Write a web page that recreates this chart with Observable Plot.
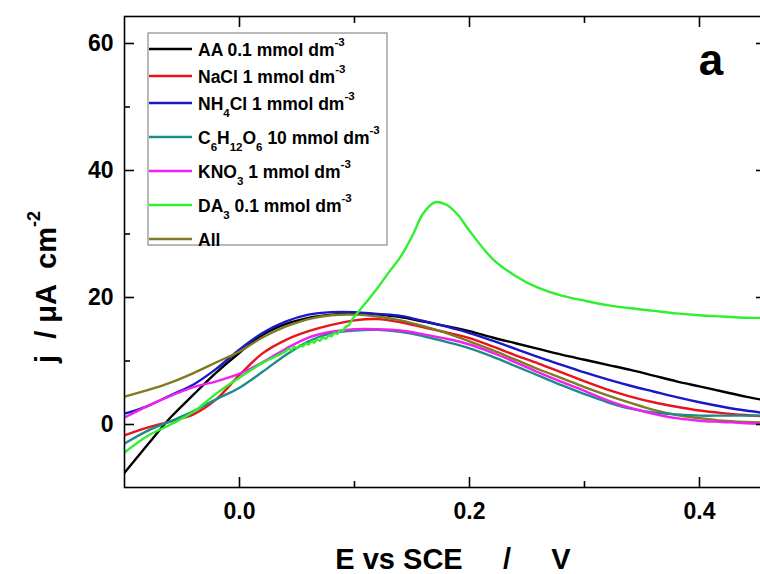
<!DOCTYPE html>
<html>
<head>
<meta charset="utf-8">
<script src="https://cdn.jsdelivr.net/npm/d3@7"></script>
<script src="https://cdn.jsdelivr.net/npm/@observablehq/plot@0.6"></script>
<style>
  html, body { margin: 0; padding: 0; background: #fff; overflow: hidden; }
  #chart { width: 760px; height: 574px; overflow: hidden; position: relative; }
  #chart svg { max-width: none !important; width: 770px; height: 574px; }
  text { white-space: pre; }
</style>
</head>
<body>
<div id="chart"></div>
<script>
// ---- data ----
const potential = [-0.10, -0.08, -0.06, -0.04, -0.02, 0.00, 0.02, 0.04, 0.06, 0.08, 0.10, 0.12, 0.14, 0.16, 0.18, 0.20, 0.22, 0.24, 0.26, 0.28, 0.30, 0.32, 0.34, 0.36, 0.38, 0.40, 0.42, 0.44, 0.4574];
const jAA      = [-7.6, -3.2, 1.1, 4.7, 8.2, 11.3, 14.1, 15.8, 16.8, 17.3, 17.5, 17.3, 16.9, 16.2, 15.5, 14.7, 13.7, 12.8, 11.9, 11.0, 10.2, 9.4, 8.6, 7.7, 6.8, 6.0, 5.2, 4.4, 3.8];
const jNaCl    = [-1.7, -0.5, 0.5, 1.6, 4.0, 7.8, 11.2, 13.3, 14.7, 15.7, 16.4, 16.6, 16.1, 15.3, 14.5, 13.6, 12.3, 10.9, 9.6, 8.2, 6.8, 5.5, 4.4, 3.5, 2.8, 2.2, 1.8, 1.5, 1.3];
const jNH4Cl   = [1.7, 2.9, 4.6, 6.3, 8.8, 11.8, 14.4, 16.2, 17.3, 17.7, 17.7, 17.4, 17.1, 16.3, 15.4, 14.4, 13.2, 11.9, 10.6, 9.4, 8.2, 7.1, 6.1, 5.2, 4.3, 3.5, 2.8, 2.2, 1.8];
const jGlucose = [-3.0, -1.0, 0.5, 2.1, 4.0, 5.8, 8.3, 10.9, 13.1, 14.4, 14.8, 14.9, 14.6, 13.9, 13.0, 12.0, 10.7, 9.2, 7.7, 6.2, 4.8, 3.5, 2.5, 1.9, 1.6, 1.4, 1.4, 1.4, 1.4];
const jKNO3    = [1.1, 2.9, 4.5, 5.9, 6.8, 8.0, 9.8, 11.9, 13.7, 14.6, 15.0, 15.0, 14.8, 14.2, 13.5, 12.6, 11.3, 9.8, 8.2, 6.7, 5.3, 3.8, 2.6, 1.7, 1.0, 0.6, 0.4, 0.2, 0.1];
const jAll     = [4.4, 5.4, 6.6, 8.1, 9.8, 11.5, 13.7, 15.4, 16.6, 17.2, 17.3, 17.0, 16.4, 15.5, 14.4, 13.1, 11.7, 10.2, 8.7, 7.3, 5.9, 4.6, 3.4, 2.3, 1.5, 1.0, 0.6, 0.4, 0.3];

const potentialDA = [-0.10, -0.08, -0.06, -0.04, -0.02, 0.00, 0.02,
  0.04, 0.0425, 0.045, 0.0475, 0.05, 0.0525, 0.055, 0.0575, 0.06, 0.0625, 0.065, 0.0675, 0.07, 0.0725, 0.075, 0.0775, 0.08, 0.0825, 0.085, 0.0875, 0.09, 0.0925, 0.095, 0.0975, 0.10,
  0.11, 0.12, 0.13, 0.14, 0.15, 0.16, 0.17, 0.18, 0.19, 0.20, 0.22, 0.24, 0.26, 0.28, 0.30, 0.32, 0.34, 0.36, 0.38, 0.40, 0.42, 0.44, 0.4574];
const jDA = [-4.4, -1.8, 0.0, 2.0, 4.9, 7.4, 9.7,
  11.5, 11.9, 11.7, 12.2, 12.0, 12.5, 12.3, 12.8, 12.6, 13.1, 12.9, 13.4, 13.2, 13.7, 13.5, 14.0, 13.9, 14.4, 14.3, 14.8, 14.8, 15.4, 15.6, 16.4, 17.0,
  19.2, 21.5, 24.0, 26.4, 29.6, 33.3, 35.0, 34.6, 33.0, 30.5, 26.1, 23.4, 21.5, 20.3, 19.5, 18.8, 18.3, 17.9, 17.5, 17.2, 17.0, 16.8, 16.8];

const seriesKeys   = ["AA", "NaCl", "NH4Cl", "C6H12O6", "KNO3", "DA3", "All"];
const seriesColors = ["#000000", "#e8141c", "#1818c8", "#1f8a8a", "#f020f0", "#2ef02e", "#7f7b22"];
const legendLabels = [
  [["AA 0.1 mmol dm", ""], ["-3", "sup"]],
  [["NaCl 1 mmol dm", ""], ["-3", "sup"]],
  [["NH", ""], ["4", "sub"], ["Cl 1 mmol dm", ""], ["-3", "sup"]],
  [["C", ""], ["6", "sub"], ["H", ""], ["12", "sub"], ["O", ""], ["6", "sub"], [" 10 mmol dm", ""], ["-3", "sup"]],
  [["KNO", ""], ["3", "sub"], [" 1 mmol dm", ""], ["-3", "sup"]],
  [["DA", ""], ["3", "sub"], [" 0.1 mmol dm", ""], ["-3", "sup"]],
  [["All", ""]]
];

const xTicksMajor = [0.0, 0.2, 0.4];
const xTicksMinor = [0.1, 0.3];
const yTicksMajor = [0, 20, 40, 60];
const yTicksMinor = [10, 30, 50];
const xTitle = "E vs SCE     /     V";
const yTitle = [["j  / \u03bcA  cm", ""], ["-2", "sup"]];
const panelLabel = "a";

// ---- build table ----
const seriesY = {AA: jAA, NaCl: jNaCl, NH4Cl: jNH4Cl, C6H12O6: jGlucose, KNO3: jKNO3, All: jAll};
const rows = [];
for (const key of seriesKeys) {
  if (key === "DA3") {
    potentialDA.forEach((e, i) => rows.push({series: key, E: e, j: jDA[i]}));
  } else {
    potential.forEach((e, i) => rows.push({series: key, E: e, j: seriesY[key][i]}));
  }
}
const drawOrder = ["AA", "NaCl", "NH4Cl", "All", "C6H12O6", "KNO3", "DA3"];
const colorOf = Object.fromEntries(seriesKeys.map((k, i) => [k, seriesColors[i]]));

const FONT = "'Liberation Sans', Arial, Helvetica, sans-serif";
const axisCommon = {strokeWidth: 1.6, label: null};

const svg = Plot.plot({
  width: 770,
  height: 574,
  marginLeft: 124,
  marginRight: 5,
  marginTop: 16,
  marginBottom: 87,
  x: {domain: [-0.1, 0.4574]},
  y: {domain: [-9.92, 64.25]},
  style: {fontFamily: FONT, fontWeight: "bold", color: "black", background: "white", overflow: "hidden", maxWidth: "none"},
  marks: [
    ...drawOrder.map(k => Plot.line(rows.filter(r => r.series === k), {
      x: "E", y: "j", stroke: colorOf[k], strokeWidth: 2.4, curve: "catmull-rom", clip: true
    })),
    Plot.frame({stroke: "black", strokeWidth: 1.6}),
    // ticks pointing inward
    Plot.axisX(xTicksMajor, {...axisCommon, anchor: "bottom", tickSize: -10, fill: "none"}),
    Plot.axisX(xTicksMinor, {...axisCommon, anchor: "bottom", tickSize: -6, fill: "none"}),
    Plot.axisX(xTicksMajor, {...axisCommon, anchor: "top", tickSize: -10, fill: "none"}),
    Plot.axisX(xTicksMinor, {...axisCommon, anchor: "top", tickSize: -6, fill: "none"}),
    Plot.axisY(yTicksMajor, {...axisCommon, anchor: "left", tickSize: -10, fill: "none"}),
    Plot.axisY(yTicksMinor, {...axisCommon, anchor: "left", tickSize: -6, fill: "none"}),
    Plot.axisY(yTicksMajor, {...axisCommon, anchor: "right", tickSize: -10, fill: "none"}),
    Plot.axisY(yTicksMinor, {...axisCommon, anchor: "right", tickSize: -6, fill: "none"}),
    // tick labels
    Plot.axisX(xTicksMajor, {anchor: "bottom", tickSize: 0, tickPadding: 15, tickFormat: d3.format(".1f"), fontSize: 23, fontWeight: "bold", label: null}),
    Plot.axisY(yTicksMajor, {anchor: "left", tickSize: 0, tickPadding: 11, tickFormat: d3.format("d"), fontSize: 23, fontWeight: "bold", label: null})
  ]
});
svg.style.maxWidth = "none";
document.getElementById("chart").appendChild(svg);

// ---- overlays: titles, panel label, legend ----
const s = d3.select(svg);

// rich text: sub/superscripts via dy offsets on the shifted tspan and the next one
function addRich(sel, parts, size, subSize) {
  let shift = 0;
  for (const [t, mode] of parts) {
    const target = mode === "sup" ? -0.55 * size : mode === "sub" ? 0.42 * size : 0;
    sel.append("tspan")
      .attr("dy", target - shift)
      .attr("font-size", mode ? subSize : size)
      .text(t);
    shift = target;
  }
}

s.append("text")
  .attr("x", 453).attr("y", 569)
  .attr("text-anchor", "middle")
  .attr("font-family", FONT).attr("font-weight", "bold").attr("font-size", 29)
  .attr("fill", "black")
  .text(xTitle);

const yt = s.append("text")
  .attr("transform", "translate(56,287) rotate(-90)")
  .attr("text-anchor", "middle")
  .attr("font-family", FONT).attr("font-weight", "bold").attr("font-size", 29)
  .attr("fill", "black");
addRich(yt, yTitle, 29, 18);

s.append("text")
  .attr("x", 711).attr("y", 75)
  .attr("text-anchor", "middle")
  .attr("font-family", FONT).attr("font-weight", "bold").attr("font-size", 44)
  .attr("fill", "black")
  .text(panelLabel);

// legend
const lg = s.append("g").attr("font-family", FONT).attr("font-weight", "bold").attr("text-anchor", "start");
lg.append("rect")
  .attr("x", 148).attr("y", 33).attr("width", 239).attr("height", 212)
  .attr("fill", "white").attr("stroke", "#8a8a8a").attr("stroke-width", 1.2);
let rowY = 49;
seriesKeys.forEach((k, i) => {
  if (i > 0) {
    const prevHasSub = legendLabels[i - 1].some(p => p[1] === "sub");
    rowY += 27 + (prevHasSub ? 7 : 0);
  }
  lg.append("line")
    .attr("x1", 149).attr("x2", 192).attr("y1", rowY).attr("y2", rowY)
    .attr("stroke", seriesColors[i]).attr("stroke-width", 2.6);
  const t = lg.append("text")
    .attr("x", 198).attr("y", rowY + 6.5)
    .attr("text-anchor", "start")
    .attr("fill", "black");
  addRich(t, legendLabels[i], 17.5, 11.5);
});
</script>
</body>
</html>
